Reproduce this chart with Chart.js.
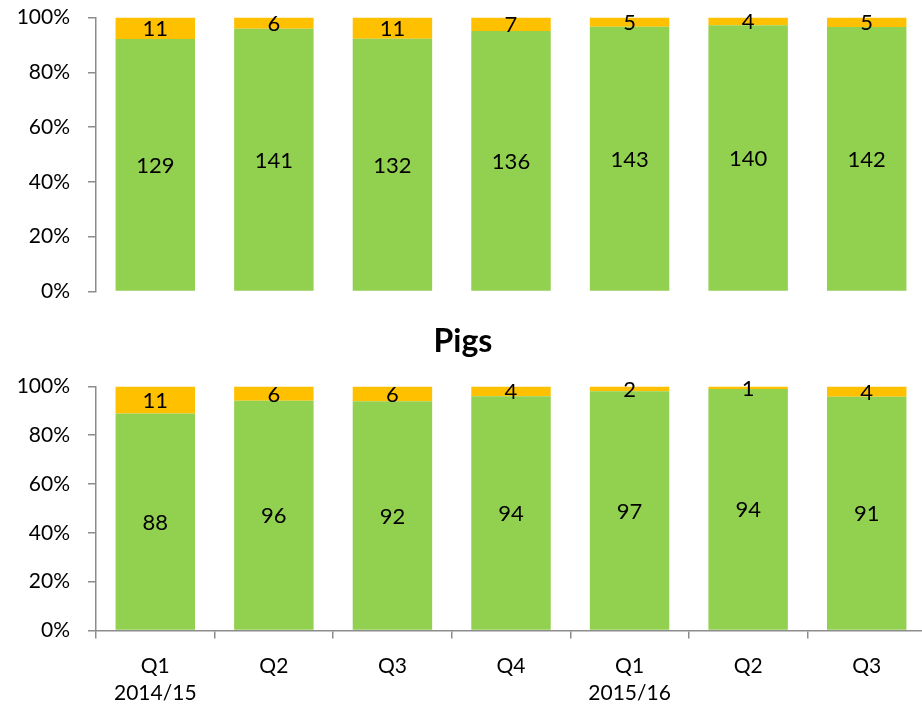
<!DOCTYPE html>
<html>
<head>
<meta charset="utf-8">
<script src="https://cdn.jsdelivr.net/npm/chart.js@4.4.1/dist/chart.umd.min.js"></script>
<style>
  html, body { margin: 0; padding: 0; background: #fff; overflow: hidden; }
  #wrap { position: relative; width: 922px; height: 708px; overflow: hidden; }
  canvas { position: absolute; left: 0; }
</style>
</head>
<body>
<div id="wrap">
  <canvas id="topChart" width="926" height="335" style="top:-13px"></canvas>
  <canvas id="pigsChart" width="926" height="413" style="top:310px"></canvas>
</div>
<script>
// quarters on the x axis (two-line labels)
const quarters = [['Q1', '2014/15'], 'Q2', 'Q3', 'Q4', ['Q1', '2015/16'], 'Q2', 'Q3'];

// top panel counts
const topGreen = [129, 141, 132, 136, 143, 140, 142];
const topOrange = [11, 6, 11, 7, 5, 4, 5];

// pigs panel counts
const pigsGreen = [88, 96, 92, 94, 97, 94, 91];
const pigsOrange = [11, 6, 6, 4, 2, 1, 4];

const yTicks = [0, 20, 40, 60, 80, 100];

const GREEN = '#92D050';
const ORANGE = '#FFC000';
const AXIS = '#8c8c8c';
const FONT = 'Lato, "Open Sans", sans-serif';

// turn counts into share of the total for the 100% stacked bars
function toPercent(part, other) {
    return part.map((v, i) => v / (v + other[i]) * 100);
}

// draws the count in the middle of each bar segment
const countLabels = {
    id: 'countLabels',
    afterDatasetsDraw(chart) {
        const ctx = chart.ctx;
        ctx.save();
        ctx.font = '22px ' + FONT;
        ctx.fillStyle = '#000';
        ctx.textAlign = 'center';
        ctx.textBaseline = 'middle';
        chart.data.datasets.forEach((ds, di) => {
            const meta = chart.getDatasetMeta(di);
            meta.data.forEach((bar, i) => {
                const p = bar.getCenterPoint();
                ctx.fillText(ds.counts[i], p.x, p.y + 1);
            });
        });
        ctx.restore();
    }
};

function makeChart(id, green, orange, showX, title) {
    const ctx = document.getElementById(id).getContext('2d');
    return new Chart(ctx, {
        type: 'bar',
        data: {
            labels: quarters,
            datasets: [{
                data: toPercent(green, orange),
                counts: green,
                backgroundColor: GREEN,
                barPercentage: 0.67,
                categoryPercentage: 1
            }, {
                data: toPercent(orange, green),
                counts: orange,
                backgroundColor: ORANGE,
                barPercentage: 0.67,
                categoryPercentage: 1
            }]
        },
        options: {
            responsive: false,
            animation: false,
            layout: {
                padding: showX ? { top: 0, right: 0, bottom: 2, left: 0 } : { top: 6, right: 0, bottom: 7, left: 0 }
            },
            plugins: {
                legend: { display: false },
                tooltip: { enabled: false },
                title: {
                    display: !!title,
                    text: title,
                    color: '#000',
                    font: { family: FONT, size: 32, weight: 'bold' },
                    padding: { top: 12, bottom: 26 }
                }
            },
            scales: {
                x: {
                    stacked: true,
                    display: showX,
                    grid: {
                        display: true,
                        drawOnChartArea: false,
                        drawTicks: true,
                        tickLength: 8,
                        color: AXIS,
                        lineWidth: 1.5
                    },
                    border: { display: true, color: AXIS, width: 1.5 },
                    ticks: {
                        color: '#000',
                        font: { family: FONT, size: 21, lineHeight: 1.3 },
                        padding: 14,
                        maxRotation: 0
                    }
                },
                y: {
                    stacked: true,
                    min: 0,
                    max: 100,
                    afterFit(scale) { scale.width = 96; },
                    afterBuildTicks(scale) { scale.ticks = yTicks.map(v => ({ value: v })); },
                    grid: {
                        display: true,
                        drawOnChartArea: false,
                        drawTicks: true,
                        tickLength: 8,
                        color: AXIS,
                        lineWidth: 1.5
                    },
                    border: { display: true, color: AXIS, width: 1.5 },
                    ticks: {
                        color: '#000',
                        font: { family: FONT, size: 21 },
                        padding: 18,
                        callback: v => v + '%'
                    }
                }
            }
        },
        plugins: [countLabels]
    });
}

makeChart('topChart', topGreen, topOrange, false, '');
makeChart('pigsChart', pigsGreen, pigsOrange, true, 'Pigs');
</script>
</body>
</html>
